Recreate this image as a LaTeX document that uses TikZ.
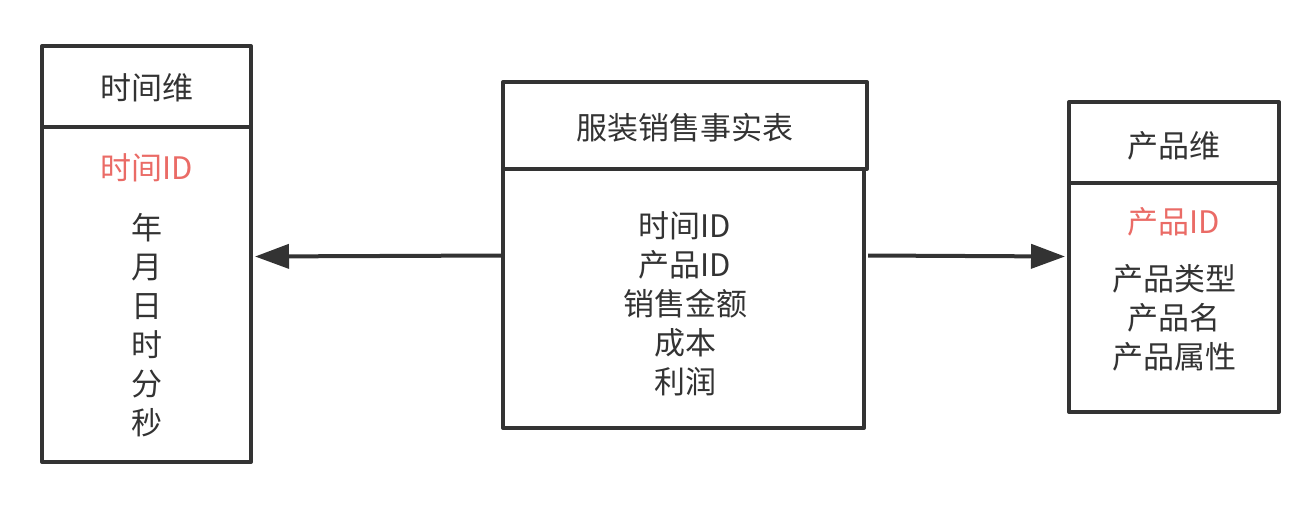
\documentclass[tikz,border=0pt]{standalone}
\usepackage{fontspec}
\setmainfont{Noto Sans CJK SC}
\usetikzlibrary{arrows.meta}
\definecolor{dk}{HTML}{333333}
\definecolor{rd}{HTML}{EA6B66}
\begin{document}
\begin{tikzpicture}[x=1pt,y=-1pt,
  box/.style={draw=dk, line width=4pt, line join=round, rectangle, inner sep=0pt, text=dk},
  txt/.style={text=dk, inner sep=0pt, align=center, font=\fontsize{31}{39}\selectfont},
  key/.style={txt, text=rd},
  arr/.style={draw=dk, line width=4pt, -{Triangle[length=34pt,width=24pt]}}]
\useasboundingbox (0,0) rectangle (1316,504);
% left box
\node[box, minimum width=209pt, minimum height=335pt] (lb) at (146.5,294.5) {};
\node[box, minimum width=209pt, minimum height=81pt] (lh) at (146.5,86.5) {};
\node[txt] (lht) at (146.5,88) {时间维};
\node[key] (lk) at (146.5,168) {时间ID};
\node[txt] (ll) at (146.5,325.5) {年\\月\\日\\时\\分\\秒};
% middle box
\node[box, minimum width=361pt, minimum height=259pt] (mb) at (683.5,298.5) {};
\node[box, minimum width=364pt, minimum height=87pt] (mh) at (685,125.5) {};
\node[txt] (mht) at (685,128) {服装销售事实表};
\node[txt] (ml) at (685,304) {时间ID\\产品ID\\销售金额\\成本\\利润};
% right box
\node[box, minimum width=210pt, minimum height=229pt] (rb) at (1174,297.5) {};
\node[box, minimum width=210pt, minimum height=81pt] (rh) at (1174,142.5) {};
\node[txt] (rht) at (1174,146) {产品维};
\node[key] (rk) at (1174,222) {产品ID};
\node[txt] (rl) at (1174,318) {产品类型\\产品名\\产品属性};
% arrows
\draw[arr] (mb.west |- 0,255.5) -- ([xshift=2pt]lb.east |- 0,256.5);
\draw[arr] ([xshift=2pt]mb.east |- 0,255.5) -- ([xshift=-2pt]rb.west |- 0,256.5);
\end{tikzpicture}
\end{document}
